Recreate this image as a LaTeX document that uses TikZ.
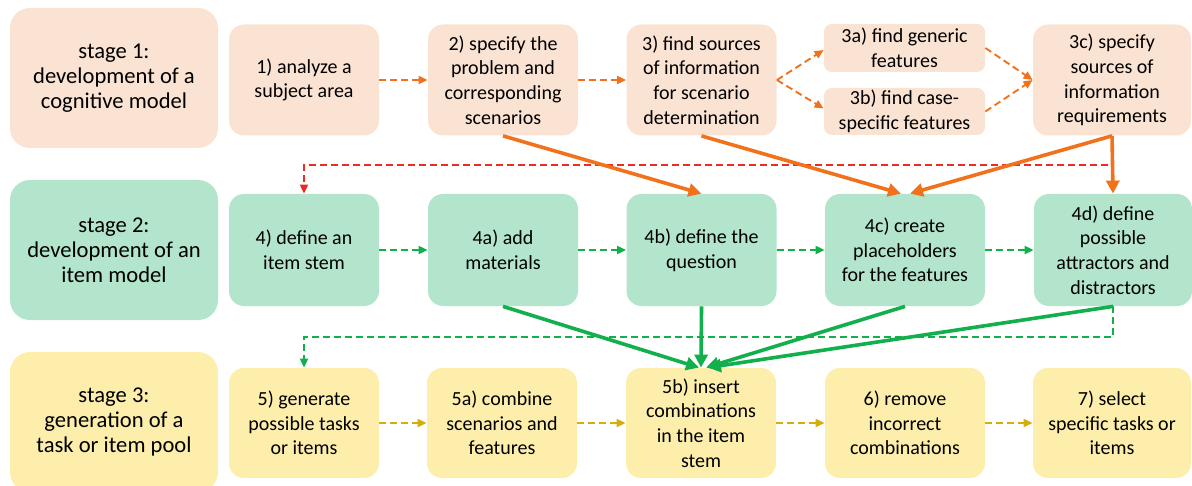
\documentclass[tikz,border=0pt]{standalone}
\usepackage{fontspec}
\setmainfont{Carlito}
\usetikzlibrary{arrows.meta}

\definecolor{peach}{HTML}{FBE3D3}
\definecolor{mint}{HTML}{B2E5CB}
\definecolor{butter}{HTML}{FDEEAC}
\definecolor{orangeln}{HTML}{F2711C}
\definecolor{redln}{HTML}{EE2A24}
\definecolor{greenln}{HTML}{12B04C}
\definecolor{goldln}{HTML}{D4AE0C}

\tikzset{
  wh/.style 2 args={minimum width=#1*0.5pt, minimum height=#2*0.5pt},
  txt/.style={align=center, inner sep=0pt, text=black,
    font=\fontsize{10}{12.3}\selectfont},
  stagebox/.style={txt, rounded corners=10pt, wh={208}{140},
    font=\fontsize{11.3}{12.6}\selectfont},
  stepbox/.style={txt, rounded corners=7.5pt},
  smallbox/.style={txt, rounded corners=4pt},
  dashlink/.style={line width=0.95pt, dash pattern=on 3.5pt off 2pt,
    -{Triangle[length=4.5pt,width=4pt]}},
  solidlink/.style={line width=1.8pt,
    -{Triangle[length=6.5pt,width=6.5pt]}},
}

\begin{document}
\begin{tikzpicture}[x=0.5pt,y=-0.5pt]
\useasboundingbox (0,0) rectangle (1192,486);
\clip (0,0) rectangle (1192,486);

% ---- stage 1: cognitive model ----
\node[stagebox, fill=peach] (s1) at (114,78) {stage 1:\\development of a\\cognitive model};
\node[stepbox, fill=peach, wh={150}{111}] (n1) at (304,80) {1) analyze a\\subject area};
\node[stepbox, fill=peach, wh={150}{111}] (n2) at (503,80) {2) specify the\\problem and\\corresponding\\scenarios};
\node[stepbox, fill=peach, wh={150}{111}] (n3) at (701.5,80) {3) find sources\\of information\\for scenario\\determination};
\node[smallbox, fill=peach, wh={161}{48}] (n3a) at (904.5,48) {3a) find generic\\features};
\node[smallbox, fill=peach, wh={161}{47}] (n3b) at (904.5,111.5) {3b) find case-\\specific features};
\node[stepbox, fill=peach, wh={158}{111}] (n3c) at (1112,80) {3c) specify\\sources of\\information\\requirements};

% ---- stage 2: item model ----
\node[stagebox, fill=mint] (s2) at (114,250) {stage 2:\\development of an\\item model};
\node[stepbox, fill=mint, wh={150}{112}] (n4) at (304,250) {4) define an\\item stem};
\node[stepbox, fill=mint, wh={150}{112}] (n4a) at (503,250) {4a) add\\materials};
\node[stepbox, fill=mint, wh={150}{112}] (n4b) at (701.5,250) {4b) define the\\question};
\node[stepbox, fill=mint, wh={160}{112}] (n4c) at (905,250) {4c) create\\placeholders\\for the features};
\node[stepbox, fill=mint, wh={158}{112}] (n4d) at (1113,250) {4d) define\\possible\\attractors and\\distractors};

% ---- stage 3: task or item pool ----
\node[stagebox, fill=butter] (s3) at (114,422) {stage 3:\\generation of a\\task or item pool};
\node[stepbox, fill=butter, wh={150}{110}] (n5) at (304,423) {5) generate\\possible tasks\\or items};
\node[stepbox, fill=butter, wh={150}{110}] (n5a) at (502,423) {5a) combine\\scenarios and\\features};
\node[stepbox, fill=butter, wh={150}{110}] (n5b) at (701,423) {5b) insert\\combinations\\in the item\\stem};
\node[stepbox, fill=butter, wh={160}{110}] (n6) at (905,423) {6) remove\\incorrect\\combinations};
\node[stepbox, fill=butter, wh={158}{110}] (n7) at (1112,423) {7) select\\specific tasks or\\items};

% ---- sequence within stage 1 ----
\draw[dashlink, orangeln] (n1) -- (n2);
\draw[dashlink, orangeln] (n2) -- (n3);
\draw[dashlink, orangeln] (n3.east) -- ([yshift=-1pt]n3a.west);
\draw[dashlink, orangeln] (n3.east) -- ([yshift=1.5pt]n3b.west);
\draw[dashlink, orangeln] (n3a.east) -- (n3c.west);
\draw[dashlink, orangeln] (n3b.east) -- (n3c.west);

% ---- hand-over from stage 1 to stage 2 ----
\draw[dashlink, redln] (n3c.south) -- ++(0,29) -| (n4.north);
\draw[solidlink, orangeln] (n2.south) -- (n4b.north);
\draw[solidlink, orangeln] (n3.south) -- ([xshift=-2pt]n4c.north);
\draw[solidlink, orangeln] (n3c.south) -- ([xshift=2.5pt]n4c.north);
\draw[solidlink, orangeln] (n3c.south) -- (n4d.north);

% ---- sequence within stage 2 ----
\draw[dashlink, greenln] (n4) -- (n4a);
\draw[dashlink, greenln] (n4a) -- (n4b);
\draw[dashlink, greenln] (n4b) -- (n4c);
\draw[dashlink, greenln] (n4c) -- (n4d);

% ---- hand-over from stage 2 to stage 3 ----
\draw[dashlink, greenln] (n4d.south) -- ++(0,31) -| (n5.north);
\draw[solidlink, greenln] (n4a.south) -- ([xshift=-1pt]n5b.north);
\draw[solidlink, greenln] (n4b.south) -- (n5b.north);
\draw[solidlink, greenln] (n4c.south) -- ([xshift=2.5pt]n5b.north);
\draw[solidlink, greenln] (n4d.south) -- ([xshift=3.5pt]n5b.north);

% ---- sequence within stage 3 ----
\draw[dashlink, goldln] (n5) -- (n5a);
\draw[dashlink, goldln] (n5a) -- (n5b);
\draw[dashlink, goldln] (n5b) -- (n6);
\draw[dashlink, goldln] (n6) -- (n7);
\end{tikzpicture}
\end{document}
